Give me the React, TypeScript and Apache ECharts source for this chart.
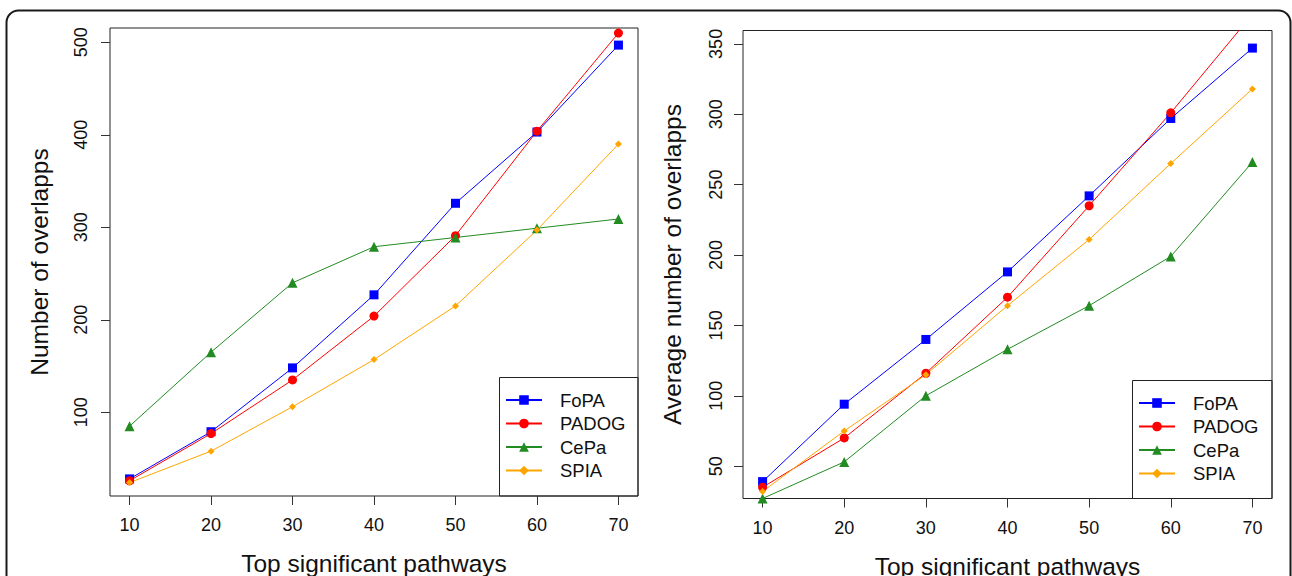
import React, { useEffect, useRef } from "react";
import * as echarts from "echarts";

const xValues = [10, 20, 30, 40, 50, 60, 70];
const seriesNames = ["FoPA", "PADOG", "CePa", "SPIA"];

const leftFoPA = [28, 79, 148, 227, 326, 403, 497];
const leftPADOG = [26, 77, 135, 204, 291, 404, 510];
const leftCePa = [85, 165, 240, 279, 289, 299, 309];
const leftSPIA = [24, 58, 106, 157, 215, 297, 390];

const rightFoPA = [39, 94, 140, 188, 242, 297, 347];
const rightPADOG = [35, 70, 116, 170, 235, 301, 371];
const rightCePa = [27, 53, 100, 133, 164, 199, 266];
const rightSPIA = [32, 75, 115, 164, 211, 265, 318];

const xTicks = [10, 20, 30, 40, 50, 60, 70];
const leftYTicks = [100, 200, 300, 400, 500];
const rightYTicks = [50, 100, 150, 200, 250, 300, 350];

const colors = ["#0000FF", "#FF0000", "#228B22", "#FFA500"];
const symbols = ["rect", "circle", "triangle", "diamond"];
const symbolSizes = [9, 9, 10, 7];

const FONT = "Liberation Sans, Arial, Helvetica, sans-serif";

export default function App() {
  const ref = useRef<HTMLDivElement>(null);
  useEffect(() => {
    document.body.style.margin = "0";
    const chart = echarts.init(ref.current!, null, { renderer: "svg" });

    const mkX = (gi: number) => ({
      type: "value",
      gridIndex: gi,
      min: 7.6,
      max: 72.4,
      splitLine: { show: false },
      axisLine: { show: false },
      axisTick: { show: true, length: 9, customValues: xTicks, lineStyle: { color: "#333", width: 1 } },
      axisLabel: { customValues: xTicks, margin: 20, color: "#111", fontSize: 18, fontFamily: FONT },
      name: "Top significant pathways",
      nameLocation: "middle",
      nameGap: 55,
      nameTextStyle: { color: "#111", fontSize: 24.5, fontFamily: FONT },
    });

    const mkY = (gi: number, min: number, max: number, ticks: number[], name: string, margin: number) => ({
      type: "value",
      gridIndex: gi,
      min,
      max,
      splitLine: { show: false },
      axisLine: { show: false },
      axisTick: { show: true, length: 9, customValues: ticks, lineStyle: { color: "#333", width: 1 } },
      axisLabel: { customValues: ticks, rotate: 90, margin, color: "#111", fontSize: 18, fontFamily: FONT },
      name,
      nameLocation: "middle",
      nameGap: 58,
      nameTextStyle: { color: "#111", fontSize: 24.5, fontFamily: FONT },
    });

    const leftData = [leftFoPA, leftPADOG, leftCePa, leftSPIA];
    const rightData = [rightFoPA, rightPADOG, rightCePa, rightSPIA];

    const mkSeries = (data: number[][], gi: number) =>
      data.map((vals, i) => ({
        type: "line",
        name: seriesNames[i],
        xAxisIndex: gi,
        yAxisIndex: gi,
        data: vals.map((v, k) => [xValues[k], v]),
        symbol: symbols[i],
        symbolSize: symbolSizes[i],
        showAllSymbol: true,
        clip: true,
        lineStyle: { color: colors[i], width: 1 },
        itemStyle: { color: colors[i] },
        emphasis: { disabled: true },
      }));

    const mkLegend = (left: number, top: number) => ({
      orient: "vertical",
      left,
      top,
      padding: 0,
      itemWidth: 36,
      itemHeight: 12,
      itemGap: 4.5,
      selectedMode: false,
      data: seriesNames,
      textStyle: { color: "#111", fontSize: 18.5, fontFamily: FONT, padding: [0, 0, 0, 13] },
    });

    chart.setOption({
      animation: false,
      backgroundColor: "#fff",
      grid: [
        { left: 110, top: 28, width: 528, height: 468, show: true, borderColor: "#222", borderWidth: 1, backgroundColor: "transparent", outerBoundsMode: "none", containLabel: false },
        { left: 743, top: 30.5, width: 529, height: 468, show: true, borderColor: "#222", borderWidth: 1, backgroundColor: "transparent", outerBoundsMode: "none", containLabel: false },
      ],
      xAxis: [mkX(0), mkX(1)],
      yAxis: [
        mkY(0, 9.5, 515.5, leftYTicks, "Number of overlapps", 20),
        mkY(1, 27, 359.5, rightYTicks, "Average number of overlapps", 18),
      ],
      legend: [mkLegend(505, 390.5), mkLegend(1138, 393.5)],
      series: [...mkSeries(leftData, 0), ...mkSeries(rightData, 1)],
      graphic: [
        { type: "rect", shape: { x: 499.5, y: 377.5, width: 138.5, height: 118.5 }, style: { fill: "none", stroke: "#222", lineWidth: 1 }, z: 10 },
        { type: "rect", shape: { x: 1132.5, y: 380.5, width: 139.5, height: 118 }, style: { fill: "none", stroke: "#222", lineWidth: 1 }, z: 10 },
        { type: "rect", shape: { x: 6.5, y: 10.5, width: 1284, height: 700, r: 12 }, style: { fill: "none", stroke: "#1a1a1a", lineWidth: 2 }, z: 10 },
      ],
    });
    return () => chart.dispose();
  }, []);
  return <div ref={ref} style={{ width: 1292, height: 576 }} />;
}
